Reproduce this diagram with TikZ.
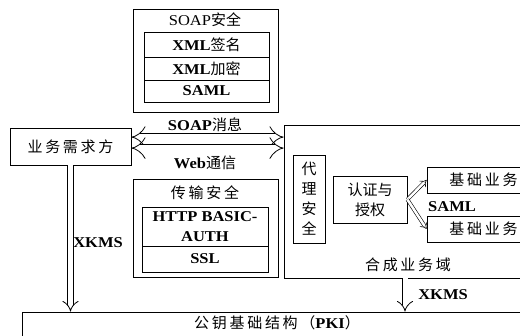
\documentclass[tikz,border=0pt]{standalone}
\usepackage{fontspec}
\setmainfont{Liberation Serif}[FakeStretch=1.1]
\newfontfamily\zh{Noto Sans CJK SC}[BoldFont={Noto Sans CJK SC}]
\newfontfamily\zhs{Noto Sans CJK SC}[LetterSpace=18, BoldFont={Noto Sans CJK SC}]
\usetikzlibrary{arrows.meta,positioning}
\tikzset{
  box/.style={draw, line width=0.8pt, inner sep=0pt, align=center, font=\bfseries},
  lbl/.style={inner sep=0pt, font=\bfseries},
  hollow/.style={double, double distance=7pt, line width=0.8pt},
}
\begin{document}
\fontsize{15}{20}\selectfont
\begin{tikzpicture}[x=1pt,y=-1pt]
  \useasboundingbox (0,0) rectangle (520,336);
  \clip (0,0) rectangle (520,336);
  % SOAP security
  \node[box, minimum width=145pt, minimum height=103pt] (soapsec) at (205.5,60.5) {};
  \node[lbl, font=\mdseries] (soaptitle) at (205,20) {SOAP\zh 安全};
  \node[box, minimum width=125pt, minimum height=25pt] (xmlsig) at (206.5,44.5) {XML\zh 签名};
  \node[box, minimum width=125pt, minimum height=23pt] (xmlenc) at (206.5,68.5) {XML\zh 加密};
  \node[box, minimum width=125pt, minimum height=22pt] (samlsec) at (206.5,91) {SAML};
  % transport security
  \node[box, minimum width=145pt, minimum height=98pt] (transec) at (205.5,228) {};
  \node[lbl, font=\zhs] (trantitle) at (205,193) {传输安全};
  \node[box, minimum width=126pt, minimum height=39pt] (basicauth) at (205,226.5) {HTTP BASIC-\\AUTH};
  \node[box, minimum width=126pt, minimum height=26pt] (ssl) at (205,259) {SSL};
  % requester
  \node[box, font=\zhs, minimum width=121pt, minimum height=37pt] (client) at (70.5,146.5) {业务需求方};
  % composite domain
  \node[box, minimum width=256pt, minimum height=153pt] (domain) at (412,201.5) {};
  \node[lbl, font=\zhs] (domainlbl) at (408,265) {合成业务域};
  \node[box, font=\zh, minimum width=32pt, minimum height=88pt] (proxy) at (309,199) {代\\理\\安\\全};
  \node[box, font=\zh, minimum width=74pt, minimum height=47pt] (auth) at (370,199.5) {认证与\\授权};
  \node[box, font=\zhs, minimum width=113pt, minimum height=26pt] (basic1) at (483.5,180) {基础业务};
  \node[box, font=\zhs, minimum width=113pt, minimum height=26pt] (basic2) at (483.5,229) {基础业务};
  \node[lbl] (samllbl) at (452,207) {SAML};
  % PKI
  \node[box, minimum width=518pt, minimum height=38pt] (pki) at (281,331) {};
  \node[lbl] (pkilbl) at (277,323) {{\zhs 公钥基础结构（}PKI{\zh ）}};
  % messages
  \node[lbl] (soapmsg) at (205,125) {SOAP{\zh 消息}};
  \node[lbl] (webcom) at (205,163) {Web{\zh 通信}};
  \node[lbl] (xkms1) at (98,243) {XKMS};
  \node[lbl] (xkms2) at (443,295) {XKMS};
  \draw[hollow, {Implies[scale=1.3]}-{Implies[scale=1.3]}] ([yshift=-9.5pt]client.north east) -- ([yshift=-12.5pt]domain.north west);
  \draw[hollow, {Implies[scale=1.3]}-{Implies[scale=1.3]}] ([yshift=-20.5pt]client.north east) -- ([yshift=-23.5pt]domain.north west);
  \draw[hollow, double distance=5pt, -{Implies[scale=1.5]}] (client.south) -- (client.south |- pki.north);
  \draw[hollow, double distance=5pt, -{Implies[scale=1.5]}] ([xshift=-7pt]domain.south) -- ([xshift=-7pt]domain.south |- pki.north);
  \foreach \b in {basic1, basic2}
    \draw[hollow, double distance=2.5pt, line width=0.6pt, -{Implies[scale=1.3]}] (auth.east) -- (\b.west);
\end{tikzpicture}
\end{document}
